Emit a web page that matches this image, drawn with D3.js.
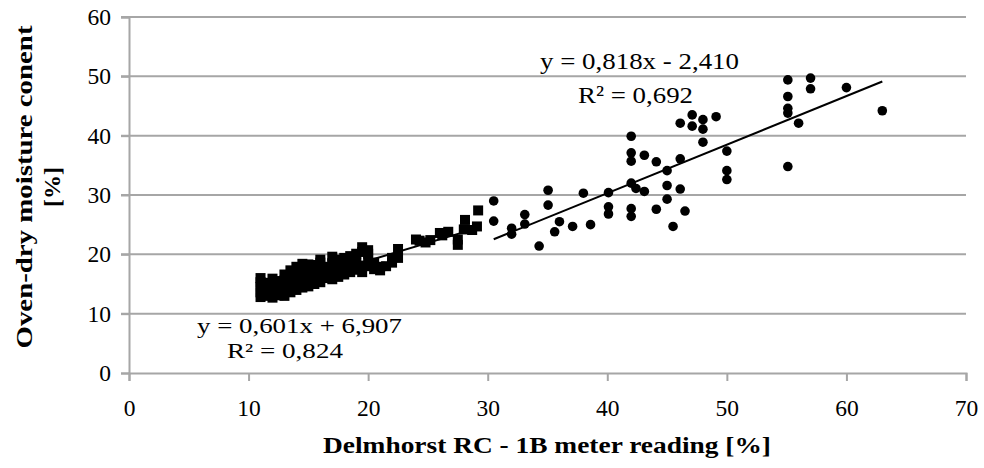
<!DOCTYPE html>
<html><head><meta charset="utf-8">
<script src="https://cdn.jsdelivr.net/npm/d3@7"></script>
<style>html,body{margin:0;padding:0;background:#fff;}svg{display:block;}</style>
</head><body>
<svg id="c" width="984" height="468"></svg>
<script>
const xTicks = [0,10,20,30,40,50,60,70];
const yTicks = [0,10,20,30,40,50,60];
const xTitle = "Delmhorst RC - 1B meter reading [%]";
const yTitle = ["Oven-dry moisture conent", "[%]"];

// series 1: low readings (squares)
const squareData = [
 [11,12.8],[11,13.6],[11,14.5],[11,15.3],[11,16.0],
 [11.5,13.0],[11.5,14.1],[11.5,15.2],
 [12,12.7],[12,13.5],[12,14.3],[12,15.1],[12,15.9],
 [12.5,13.1],[12.5,13.9],[12.5,14.7],[12.5,15.5],
 [13,13.0],[13,13.9],[13,14.8],[13,15.6],[13,16.6],
 [13.5,13.6],[13.5,14.5],[13.5,15.4],[13.5,16.3],[13.5,17.3],
 [14,14.0],[14,14.9],[14,15.8],[14,16.8],[14,17.9],
 [14.5,14.4],[14.5,15.4],[14.5,16.5],[14.5,17.5],[14.5,18.4],
 [15,14.6],[15,15.6],[15,16.5],[15,17.6],[15,18.3],
 [15.5,15.0],[15.5,16.2],[15.5,17.1],[15.5,18.2],
 [16,15.3],[16,16.5],[16,17.5],[16,18.6],[16,19.1],
 [16.5,16.0],[16.5,17.0],[16.5,17.9],
 [17,15.8],[17,16.8],[17,17.7],[17,18.5],[17,19.6],
 [17.5,16.2],[17.5,17.2],[17.5,18.1],[17.5,19.1],
 [18,16.6],[18,17.4],[18,18.3],[18,19.4],
 [18.5,17.0],[18.5,18.0],[18.5,18.9],[18.5,19.7],
 [19,17.4],[19,18.6],[19,19.3],[19,20.1],
 [19.5,17.0],[19.5,18.1],[19.5,20.4],[19.5,21.2],
 [20,18.0],[20,19.1],[20,20.1],[20,20.7],
 [20.5,17.5],[20.5,18.6],
 [21,17.3],[21,17.9],
 [21.5,18.0],
 [22,18.6],[22,19.4],
 [22.5,19.4],[22.5,20.9],
 [24,22.5],[24.3,22.3],
 [24.8,22.0],[25.2,22.4],
 [26,23.6],[26.2,23.2],[26.7,23.8],
 [27.5,21.6],[27.5,22.5],
 [28,24.2],[28.1,25.8],[28.7,24.1],
 [29.1,24.7],[29.2,27.4]
];
// series 2: high readings (circles)
const circleData = [
 [30.5,29.0],[30.5,25.6],[32.0,24.4],[32.0,23.4],[33.1,26.7],[33.1,25.1],[34.3,21.4],
 [35.05,30.8],[35.05,28.3],[35.6,23.8],[36.0,25.5],[37.1,24.7],[38.0,30.3],[38.6,25.0],
 [40.1,30.4],[40.1,28.0],[40.1,26.8],[42.0,39.9],[42.0,37.1],[42.0,35.7],[42.0,32.0],
 [42.4,31.1],[43.1,30.6],[42.0,27.7],[42.0,26.4],[43.1,36.7],[44.1,35.6],[44.1,27.6],
 [45.0,34.1],[45.0,31.6],[45.0,29.3],[45.5,24.7],[46.1,36.1],[46.1,31.0],[46.5,27.3],
 [46.1,42.1],[47.1,43.5],[47.1,41.6],[48.0,42.7],[48.0,41.1],[48.0,38.9],[49.1,43.2],
 [50.0,37.4],[50.0,34.1],[50.0,32.6],[55.1,49.4],[55.1,46.6],[55.1,44.6],[55.1,43.8],
 [55.1,34.8],[56.0,42.1],[57.0,49.7],[57.0,47.9],[60.0,48.1],[63.0,44.2]
];
// trend lines: [slope, intercept]
const trendSquares = [0.601, 6.907];
const trendCircles = [0.818, -2.410];
const eqSquares = ["y = 0,601x + 6,907", "R² = 0,824"];
const eqCircles = ["y = 0,818x - 2,410", "R² = 0,692"];

const svg = d3.select("#c");
const FONT = "'Liberation Serif', 'Times New Roman', serif";
const x = d3.scaleLinear().domain([0,70]).range([129,966]);
const y = d3.scaleLinear().domain([0,60]).range([373,17]);
const GRID = "#a6a6a6";

// gridlines
svg.append("g").selectAll("line").data(yTicks.filter(d=>d>0)).join("line")
  .attr("x1", x(0)-8).attr("x2", x(70))
  .attr("y1", d=>y(d)).attr("y2", d=>y(d))
  .attr("stroke", GRID).attr("stroke-width", 2);

// y axis
const yAxis = svg.append("g").attr("transform", `translate(${x(0)},0)`)
  .call(d3.axisLeft(y).tickValues(yTicks).tickSize(8).tickPadding(10).tickFormat(d3.format("d")));
// x axis
const xAxis = svg.append("g").attr("transform", `translate(0,${y(0)})`)
  .call(d3.axisBottom(x).tickValues(xTicks).tickSize(8).tickPadding(18).tickFormat(d3.format("d")));
[yAxis, xAxis].forEach(a=>{
  a.select(".domain").attr("stroke", GRID).attr("stroke-width", 2);
  a.selectAll(".tick line").attr("stroke", GRID).attr("stroke-width", 2);
  a.selectAll(".tick text").attr("font-family", FONT).attr("font-size", 23.5).attr("fill", "#000");
});

// trend lines
function trend(data, coef){
  const xs = d3.extent(data, d=>d[0]);
  svg.append("line")
    .attr("x1", x(xs[0])).attr("y1", y(coef[0]*xs[0]+coef[1]))
    .attr("x2", x(xs[1])).attr("y2", y(coef[0]*xs[1]+coef[1]))
    .attr("stroke", "#000").attr("stroke-width", 2);
}

// markers
svg.append("g").selectAll("rect").data(squareData).join("rect")
  .attr("x", d=>x(d[0])-5).attr("y", d=>y(d[1])-5)
  .attr("width", 10).attr("height", 10).attr("fill", "#000");
svg.append("g").selectAll("circle").data(circleData).join("circle")
  .attr("cx", d=>x(d[0])).attr("cy", d=>y(d[1])).attr("r", 4.8).attr("fill", "#000");
trend(squareData, trendSquares);
trend(circleData, trendCircles);

// equations
function eq(lines, pos, widths, size){
  lines.forEach((t,i)=>{
    svg.append("text").attr("x", pos[i][0]).attr("y", pos[i][1])
      .attr("font-family", FONT).attr("font-size", size).attr("fill", "#000")
      .attr("textLength", widths[i]).attr("lengthAdjust", "spacingAndGlyphs").text(t);
  });
}
eq(eqCircles, [[540,69],[578,103]], [199,115], 24);
eq(eqSquares, [[197,333],[227,358]], [205,116], 21.5);

// axis titles
svg.append("text").attr("x", (323+771)/2).attr("y", 453)
  .attr("text-anchor", "middle").attr("font-family", FONT).attr("font-weight", "bold")
  .attr("font-size", 24).attr("textLength", 448).attr("lengthAdjust", "spacingAndGlyphs").text(xTitle);
const yt = svg.append("g").attr("transform", "translate(0,187) rotate(-90)");
yt.append("text").attr("x", 0).attr("y", 32).attr("text-anchor", "middle")
  .attr("font-family", FONT).attr("font-weight", "bold").attr("font-size", 24)
  .attr("textLength", 323).attr("lengthAdjust", "spacingAndGlyphs").text(yTitle[0]);
yt.append("text").attr("x", 0).attr("y", 60).attr("text-anchor", "middle")
  .attr("font-family", FONT).attr("font-weight", "bold").attr("font-size", 24).text(yTitle[1]);
</script>
</body></html>
